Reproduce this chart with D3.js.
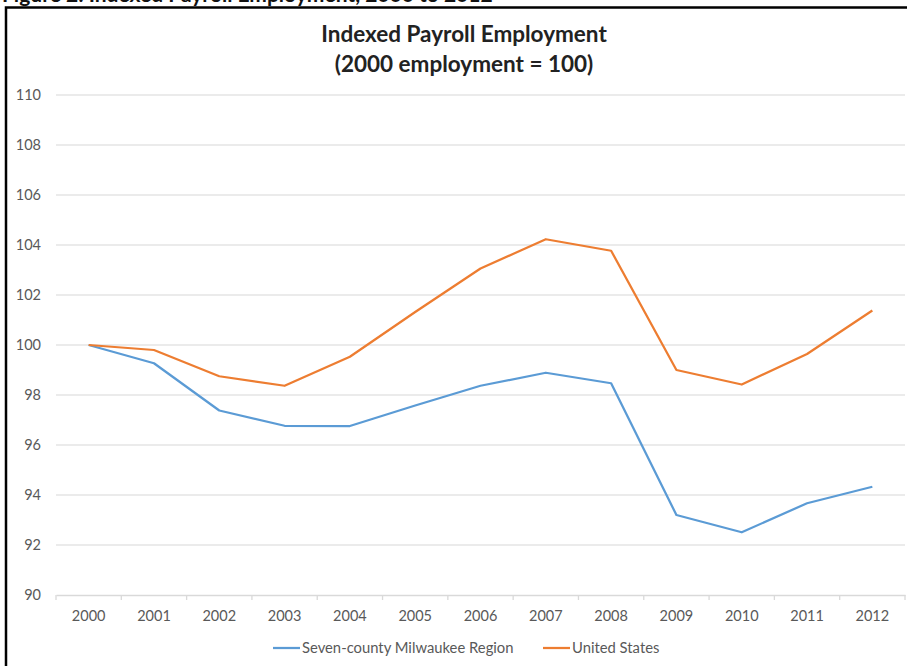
<!DOCTYPE html>
<html><head><meta charset="utf-8">
<script src="https://cdn.jsdelivr.net/npm/d3@7"></script>
<style>body{margin:0;background:#fff;} svg{display:block;font-family:Lato,"Open Sans",sans-serif;}</style>
</head><body>
<svg id="c" width="907" height="666"></svg>
<script>
const years = ["2000","2001","2002","2003","2004","2005","2006","2007","2008","2009","2010","2011","2012"];
const milwaukee = [100, 99.27, 97.38, 96.77, 96.76, 97.58, 98.37, 98.89, 98.47, 93.2, 92.51, 93.67, 94.33];
const unitedStates = [100, 99.8, 98.75, 98.37, 99.53, 101.32, 103.06, 104.23, 103.77, 99.0, 98.42, 99.64, 101.38];
const yTicks = [90, 92, 94, 96, 98, 100, 102, 104, 106, 108, 110];
const seriesNames = ["Seven-county Milwaukee Region", "United States"];
const colors = ["#5b9bd5", "#ed7d31"];

const svg = d3.select("#c");
// page header (cut off at top in the source) and frame
svg.append("text").attr("x", 2).attr("y", 2).attr("font-size", 21).attr("font-weight", "bold")
  .attr("fill", "#111").text("Figure 2: Indexed Payroll Employment, 2000 to 2012");
svg.append("path").attr("d", "M6,666 V7.5 H907").attr("fill", "none").attr("stroke", "#000").attr("stroke-width", 2.5);

svg.append("text").attr("x", 464).attr("y", 42).attr("text-anchor", "middle")
  .attr("font-size", 22.5).attr("font-weight", "bold").attr("fill", "#222").text("Indexed Payroll Employment");
svg.append("text").attr("x", 464).attr("y", 72).attr("text-anchor", "middle")
  .attr("font-size", 22.5).attr("font-weight", "bold").attr("fill", "#222").text("(2000 employment = 100)");

const x = d3.scaleBand().domain(years).range([56, 905]);
const y = d3.scaleLinear().domain([90, 110]).range([595, 95]);

const yAxis = d3.axisLeft(y).tickValues(yTicks).tickSize(0).tickPadding(15);
const gy = svg.append("g").attr("transform", "translate(56,0)").call(yAxis);
gy.select(".domain").remove();
gy.selectAll("text").attr("font-size", 14.5).attr("fill", "#595959").attr("font-family", "Lato,'Open Sans',sans-serif");
svg.append("g").selectAll("line").data(yTicks.filter(d => d !== 90)).join("line")
  .attr("x1", 56).attr("x2", 905).attr("y1", d => y(d)).attr("y2", d => y(d))
  .attr("stroke", "#e4e4e4").attr("stroke-width", 1.3);

const xAxis = d3.axisBottom(x).tickSize(0).tickPadding(16);
const gx = svg.append("g").attr("transform", "translate(0,595)").call(xAxis);
gx.select(".domain").attr("stroke", "#d9d9d9").attr("stroke-width", 1.3);
gx.selectAll("text").attr("font-size", 14.5).attr("fill", "#595959").attr("font-family", "Lato,'Open Sans',sans-serif");
const bounds = years.map(d => x(d)).concat([x(years[years.length-1]) + x.bandwidth()]);
svg.append("g").selectAll("line").data(bounds).join("line")
  .attr("x1", d => d).attr("x2", d => d).attr("y1", 595).attr("y2", 600)
  .attr("stroke", "#d9d9d9").attr("stroke-width", 1.3);

const line = d3.line().x((d, i) => x(years[i]) + x.bandwidth() / 2).y(d => y(d));
[milwaukee, unitedStates].forEach((s, k) => {
  svg.append("path").datum(s).attr("d", line).attr("fill", "none")
    .attr("stroke", colors[k]).attr("stroke-width", 2.25).attr("stroke-linejoin", "round");
});

const leg = [{x: 273, name: seriesNames[0], c: colors[0]}, {x: 543, name: seriesNames[1], c: colors[1]}];
leg.forEach(l => {
  svg.append("line").attr("x1", l.x).attr("x2", l.x + 27).attr("y1", 648).attr("y2", 648)
    .attr("stroke", l.c).attr("stroke-width", 2.25);
  svg.append("text").attr("x", l.x + 29).attr("y", 653).attr("font-size", 14.8).attr("fill", "#595959").text(l.name);
});
</script>
</body></html>
